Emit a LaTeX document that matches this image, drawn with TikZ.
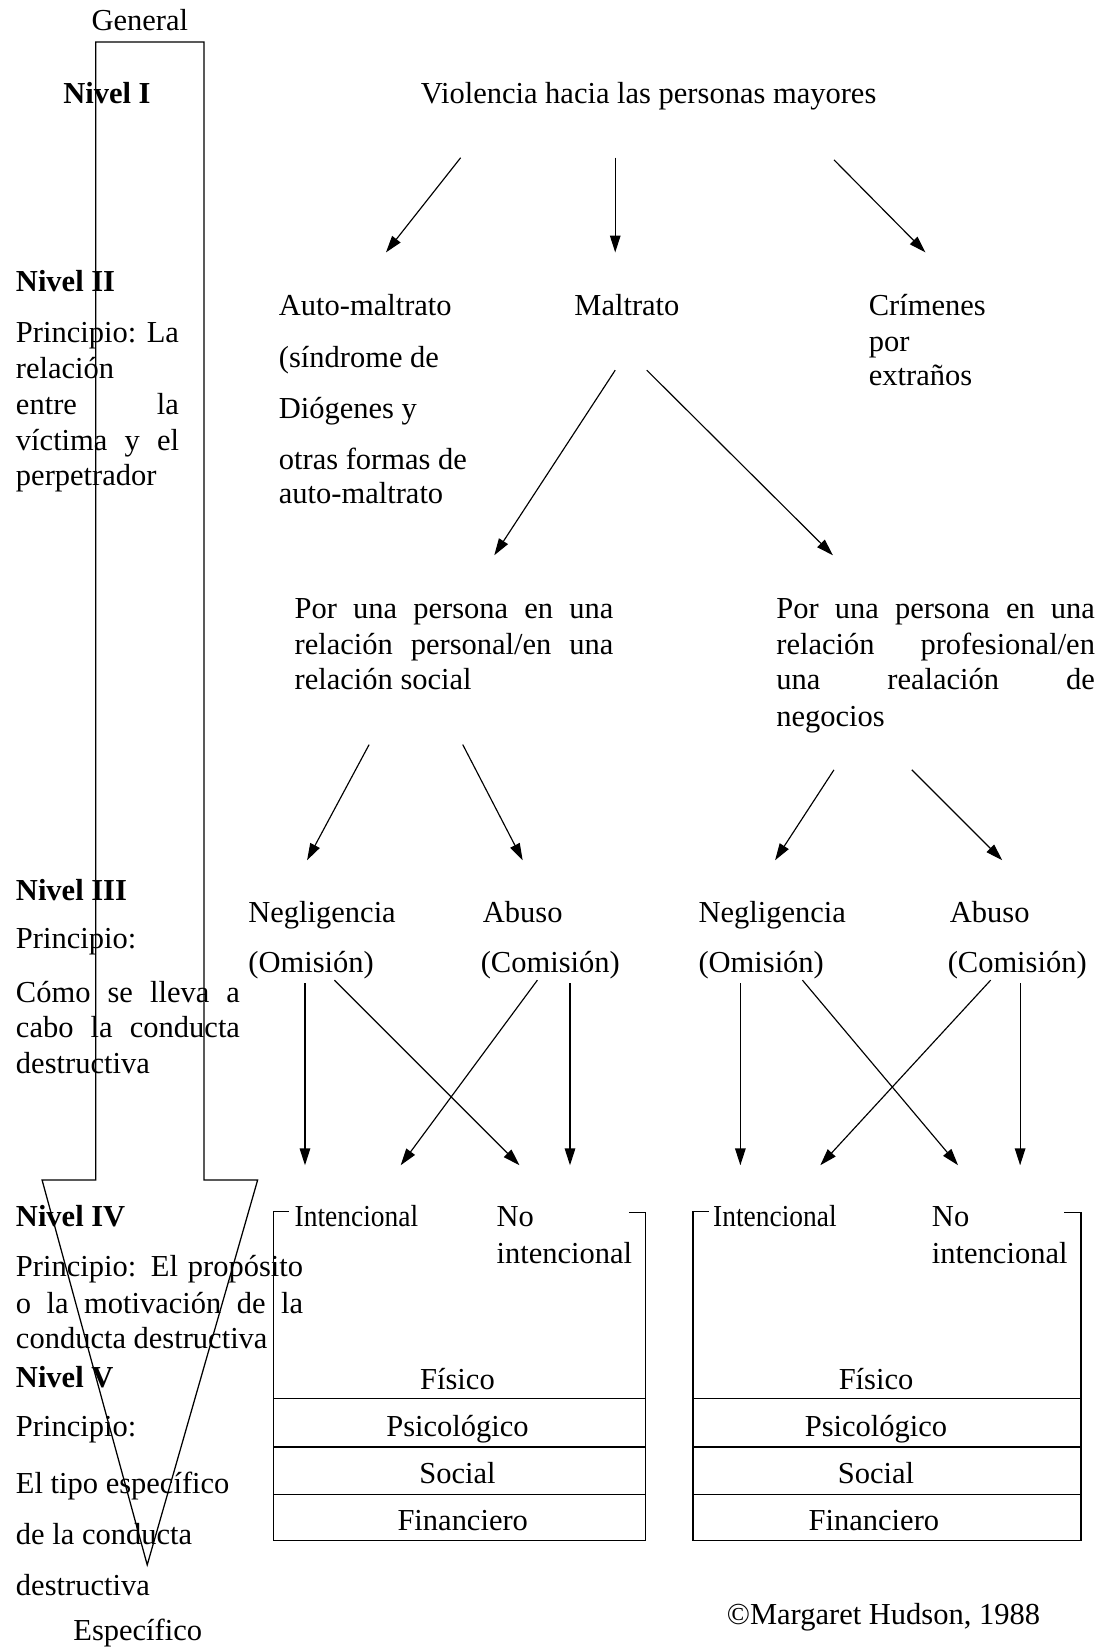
\documentclass[tikz,border=0pt]{standalone}
\usepackage{fontspec}
\usepackage{graphicx}
\setmainfont{Liberation Serif}
\usetikzlibrary{arrows.meta}
\newcommand{\jline}[2]{\makebox[#1][s]{#2}}
\begin{document}
\begin{tikzpicture}[x=1pt,y=-1pt,
  txt/.style={font=\fontsize{29}{34}\selectfont, inner sep=0pt, anchor=base west},
  ctxt/.style={txt, anchor=base},
  lvl/.style={txt, font=\fontsize{29}{34}\selectfont\bfseries},
  arr/.style={line width=1.1pt, -{Triangle[length=16pt,width=10pt]}},
  frame/.style={line width=1.2pt}]
\useasboundingbox (0,0) rectangle (1043,1568);

% big general-to-specific arrow
\draw[frame] (91,40) -- (194,40) -- (194,1122) -- (245,1122) -- (140,1488)
  -- (40,1122) -- (91,1122) -- cycle;

% left column
\node[ctxt] (gen) at (133,29) {General};
\node[lvl] (n1) at (60,98) {Nivel I};
\node[lvl] (n2) at (15,277) {Nivel II};
\node[txt] (p2a) at (15,326) {\jline{155pt}{Principio: La}};
\node[txt] (p2b) at (15,360) {relación};
\node[txt] (p2c) at (15,394) {\jline{155pt}{entre la}};
\node[txt] (p2d) at (15,428) {\jline{155pt}{víctima y el}};
\node[txt] (p2e) at (15,462) {perpetrador};
\node[lvl] (n3) at (15,856) {Nivel III};
\node[txt] (p3a) at (15,902) {Principio:};
\node[txt] (p3b) at (15,953) {\jline{213pt}{Cómo se lleva a}};
\node[txt] (p3c) at (15,987) {\jline{213pt}{cabo la conducta}};
\node[txt] (p3d) at (15,1021) {destructiva};
\node[lvl] (n4) at (15,1166) {Nivel IV};
\node[txt] (p4a) at (15,1214) {\jline{273pt}{Principio: El propósito}};
\node[txt] (p4b) at (15,1249) {\jline{273pt}{o la motivación de la}};
\node[txt] (p4c) at (15,1282) {conducta destructiva};
\node[lvl] (n5) at (15,1319) {Nivel V};
\node[txt] (p5a) at (15,1366) {Principio:};
\node[txt] (p5b) at (15,1420) {El tipo específico};
\node[txt] (p5c) at (15,1469) {de la conducta};
\node[txt] (p5d) at (15,1517) {destructiva};
\node[ctxt] (esp) at (131,1560) {Específico};

% tree level I and II
\node[txt] (viol) at (400,98) {Violencia hacia las personas mayores};
\node[txt] (auto1) at (265,300) {Auto-maltrato};
\node[txt] (auto2) at (265,349) {(síndrome de};
\node[txt] (auto3) at (265,398) {Diógenes y};
\node[txt] (auto4) at (265,446) {otras formas de};
\node[txt] (auto5) at (265,479) {auto-maltrato};
\node[txt] (malt) at (546,300) {Maltrato};
\node[txt] (crim1) at (826,300) {Crímenes};
\node[txt] (crim2) at (826,334) {por};
\node[txt] (crim3) at (826,367) {extraños};

% relation level
\node[txt] (pers1) at (280,588) {\jline{303pt}{Por una persona en una}};
\node[txt] (pers2) at (280,622) {\jline{303pt}{relación personal/en una}};
\node[txt] (pers3) at (280,656) {relación social};
\node[txt] (prof1) at (738,588) {\jline{303pt}{Por una persona en una}};
\node[txt] (prof2) at (738,622) {\jline{303pt}{relación profesional/en}};
\node[txt] (prof3) at (738,656) {\jline{303pt}{una realación de}};
\node[txt] (prof4) at (738,691) {negocios};

% level III
\node[txt] (neg1) at (236,877) {Negligencia};
\node[txt] (abu1) at (459,877) {Abuso};
\node[txt] (omi1) at (236,925) {(Omisión)};
\node[txt] (com1) at (457,925) {(Comisión)};
\node[txt] (neg2) at (664,877) {Negligencia};
\node[txt] (abu2) at (903,877) {Abuso};
\node[txt] (omi2) at (664,925) {(Omisión)};
\node[txt] (com2) at (901,925) {(Comisión)};

% arrow end points
\coordinate (a1s) at (438,150); \coordinate (a1e) at (367,240);
\coordinate (a2s) at (585,150); \coordinate (a2e) at (585,240);
\coordinate (a3s) at (793,152); \coordinate (a3e) at (880,240);
\coordinate (a4s) at (585,352); \coordinate (a4e) at (470,528);
\coordinate (a5s) at (615,352); \coordinate (a5e) at (792,528);
\coordinate (a6s) at (351,708); \coordinate (a6e) at (292,818);
\coordinate (a7s) at (440,708); \coordinate (a7e) at (497,818);
\coordinate (a8s) at (793,732); \coordinate (a8e) at (737,818);
\coordinate (a9s) at (867,732); \coordinate (a9e) at (953,818);
\coordinate (b1s) at (290,935); \coordinate (b1e) at (290,1108);
\coordinate (b2s) at (318,932); \coordinate (b2e) at (494,1108);
\coordinate (b3s) at (511,932); \coordinate (b3e) at (381,1108);
\coordinate (b4s) at (542,935); \coordinate (b4e) at (542,1108);
\coordinate (c1s) at (704,935); \coordinate (c1e) at (704,1108);
\coordinate (c2s) at (763,932); \coordinate (c2e) at (911,1108);
\coordinate (c3s) at (942,932); \coordinate (c3e) at (780,1108);
\coordinate (c4s) at (970,935); \coordinate (c4e) at (970,1108);

\foreach \a in {a1,a2,a3,a4,a5,a6,a7,a8,a9,b1,b2,b3,b4,c1,c2,c3,c4}
  \draw[arr] (\a s) -- (\a e);

% boxes
\foreach \L/\R in {260/614, 659/1028}{
  \draw[frame] (\R-16,1153) -- (\R,1153) -- (\R,1465) -- (\L,1465) -- (\L,1152) -- (\L+15,1152);
  \draw[frame] (\L,1330) -- (\R,1330);
  \draw[frame] (\L,1376) -- (\R,1376);
  \draw[frame] (\L,1421) -- (\R,1421);
}
\node[txt] (int1) at (280,1166) {\scalebox{0.9}[1]{Intencional}};
\node[txt] (no1) at (472,1166) {No};
\node[txt] (noi1) at (472,1201) {intencional};
\node[txt] (int2) at (678,1166) {\scalebox{0.9}[1]{Intencional}};
\node[txt] (no2) at (886,1166) {No};
\node[txt] (noi2) at (886,1201) {intencional};

\node[ctxt] (fis1) at (435,1321) {Físico};
\node[ctxt] (psi1) at (435,1366) {Psicológico};
\node[ctxt] (soc1) at (435,1411) {Social};
\node[ctxt] (fin1) at (440,1455) {Financiero};
\node[ctxt] (fis2) at (833,1321) {Físico};
\node[ctxt] (psi2) at (833,1366) {Psicológico};
\node[ctxt] (soc2) at (833,1411) {Social};
\node[ctxt] (fin2) at (831,1455) {Financiero};

\node[txt] (copy) at (691,1545) {©Margaret Hudson, 1988};
\end{tikzpicture}
\end{document}
